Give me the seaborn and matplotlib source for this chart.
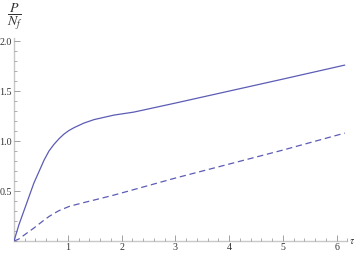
import pandas as pd
import matplotlib.pyplot as plt
import matplotlib.ticker as mticker
import seaborn as sns

# values
tau = [0, 0.09, 0.19, 0.37, 0.56, 0.65, 0.74, 0.84, 0.93, 1.02, 1.12, 1.30, 1.49, 1.86, 2.23, 3, 4, 5, 6.15]
solid = [0, 0.16, 0.31, 0.58, 0.81, 0.90, 0.965, 1.025, 1.07, 1.105, 1.135, 1.18, 1.215, 1.26, 1.29, 1.38, 1.50, 1.62, 1.76]
dashed = [0, 0.02, 0.06, 0.13, 0.21, 0.245, 0.275, 0.305, 0.325, 0.345, 0.36, 0.385, 0.41, 0.46, 0.515, 0.63, 0.77, 0.91, 1.08]

df = pd.DataFrame({'tau': tau, 'solid': solid, 'dashed': dashed})

sns.set_style('white')
plt.rcParams['font.family'] = ['Liberation Serif', 'DejaVu Serif']
plt.rcParams['mathtext.fontset'] = 'stix'

fig = plt.figure(figsize=(3.54, 2.54), dpi=100)
ax = fig.add_axes([0.0395, 0.051, 0.942, 0.799])

line_color = '#5c5cb5'
sns.lineplot(data=df, x='tau', y='solid', ax=ax, color=line_color, linewidth=0.9)
sns.lineplot(data=df, x='tau', y='dashed', ax=ax, color=line_color, linewidth=0.9,
             linestyle=(0, (5, 3)))

ax.set_xlim(0, 6.2)
ax.set_ylim(0, 2.03)
ax.set_xlabel('')
ax.set_ylabel('')

# Mathematica style axes
for s in ['top', 'right']:
    ax.spines[s].set_visible(False)
for s in ['left', 'bottom']:
    ax.spines[s].set_color('#c8c8c8')
    ax.spines[s].set_linewidth(1.0)
    ax.spines[s].set_zorder(0)

ax.xaxis.set_major_locator(mticker.FixedLocator([1, 2, 3, 4, 5, 6]))
ax.xaxis.set_minor_locator(mticker.MultipleLocator(0.2))
ax.yaxis.set_major_locator(mticker.FixedLocator([0.5, 1.0, 1.5, 2.0]))
ax.yaxis.set_minor_locator(mticker.MultipleLocator(0.1))
ax.yaxis.set_major_formatter(mticker.FormatStrFormatter('%.1f'))
ax.tick_params(which='both', direction='in', color='#909090', labelsize=7.2,
               labelcolor='#333333', bottom=True, left=True)
ax.tick_params(which='major', length=4, width=0.6, pad=1.5)
ax.tick_params(which='minor', length=2, width=0.5)

ax.text(1.004, 0.0, r'$\tau$', transform=ax.transAxes, fontsize=7.5,
        ha='left', va='center', color='#333333')
fig.text(0.042, 0.932, r'$\dfrac{P}{N_f}$', fontsize=10, ha='center', va='center',
         color='#333333')

plt.savefig('out.png', dpi=100)
